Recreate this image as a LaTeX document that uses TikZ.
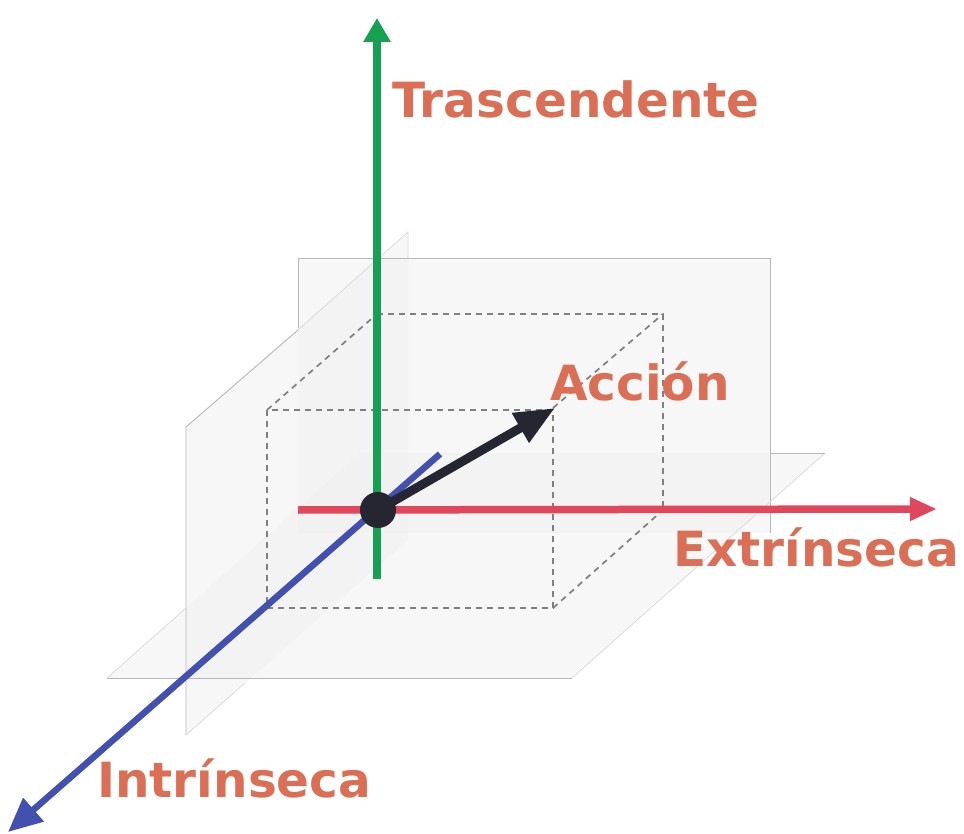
\documentclass[tikz,border=0pt]{standalone}
\usepackage{fontspec}
\setmainfont{DejaVu Sans}
\usetikzlibrary{arrows.meta}
\definecolor{axgreen}{HTML}{17A052}
\definecolor{axred}{HTML}{E0475C}
\definecolor{axblue}{HTML}{4250B0}
\definecolor{axdark}{HTML}{262633}
\definecolor{lbl}{HTML}{DB6F55}
\tikzset{
  plane/.style={fill=black!6, fill opacity=0.55, draw=none},
  planeedge/.style={draw=black!28, line width=0.9pt},
  faintedge/.style={draw=black!14, line width=0.8pt},
  cubeedge/.style={draw=black!50, line width=1.7pt, dash pattern=on 6pt off 5pt},
  axis/.style={line width=7.5pt},
  lab/.style={text=lbl, font=\bfseries\fontsize{48.5}{52}\selectfont, inner sep=0pt, anchor=base west}
}
\begin{document}
\begin{tikzpicture}[x=1pt,y=-1pt]
\useasboundingbox (0,0) rectangle (964,834);
% planes
\fill[plane] (298,258) rectangle (770,533);
\fill[plane] (186,427) -- (408,232) -- (408,540) -- (186,735) -- cycle;
\fill[plane] (107,678) -- (572,678) -- (825,453) -- (360,453) -- cycle;
% plane edges
\draw[planeedge] (298,328) -- (298,258) -- (770,258) -- (770,533);
\draw[planeedge] (186,735) -- (186,427) -- (298,330);
\draw[faintedge] (298,330) -- (408,232) -- (408,258);
\draw[faintedge] (186,735) -- (245,683);
\draw[planeedge] (107,678) -- (572,678);
\draw[faintedge] (107,678) -- (186,608);
\draw[faintedge] (572,678) -- (825,453);
\draw[planeedge] (770,453) -- (825,453);
% dashed cube
\draw[cubeedge] (267,410) rectangle (553,608);
\draw[cubeedge] (377,314) -- (663,314) -- (663,510);
\draw[cubeedge] (267,410) -- (377,314);
\draw[cubeedge] (553,408) -- (663,314);
\draw[cubeedge] (553,608) -- (663,510);
% axes
\coordinate (o) at (378,510);
\coordinate (gtop) at (377,18);
\coordinate (gbot) at (377,579);
\coordinate (rleft) at (298,510);
\coordinate (rright) at (937,509);
\coordinate (bback) at (440,454);
\coordinate (bfront) at (8,832);
\coordinate (atip) at (555,408);
\draw[axis, axgreen, -{Triangle[length=24pt,width=26pt]}] (gbot) -- (gtop);
\draw[axis, axred, -{Triangle[length=27pt,width=22pt]}] (rleft) -- (rright);
\draw[line width=6.5pt, axblue, -{Triangle[length=34pt,width=30pt]}] (bback) -- (bfront);
\draw[line width=9pt, axdark, -{Triangle[length=40pt,width=32pt]}] (o) -- (atip);
\node[circle, fill=axdark, minimum size=36pt, inner sep=0pt] (dot) at (o) {};
% labels
\node[lab] (tras) at (392,118) {Trascendente};
\node[lab] (acc) at (550,400) {Acción};
\node[lab] (ext) at (673,566) {Extrínseca};
\node[lab] (intr) at (97,797) {Intrínseca};
\end{tikzpicture}
\end{document}
